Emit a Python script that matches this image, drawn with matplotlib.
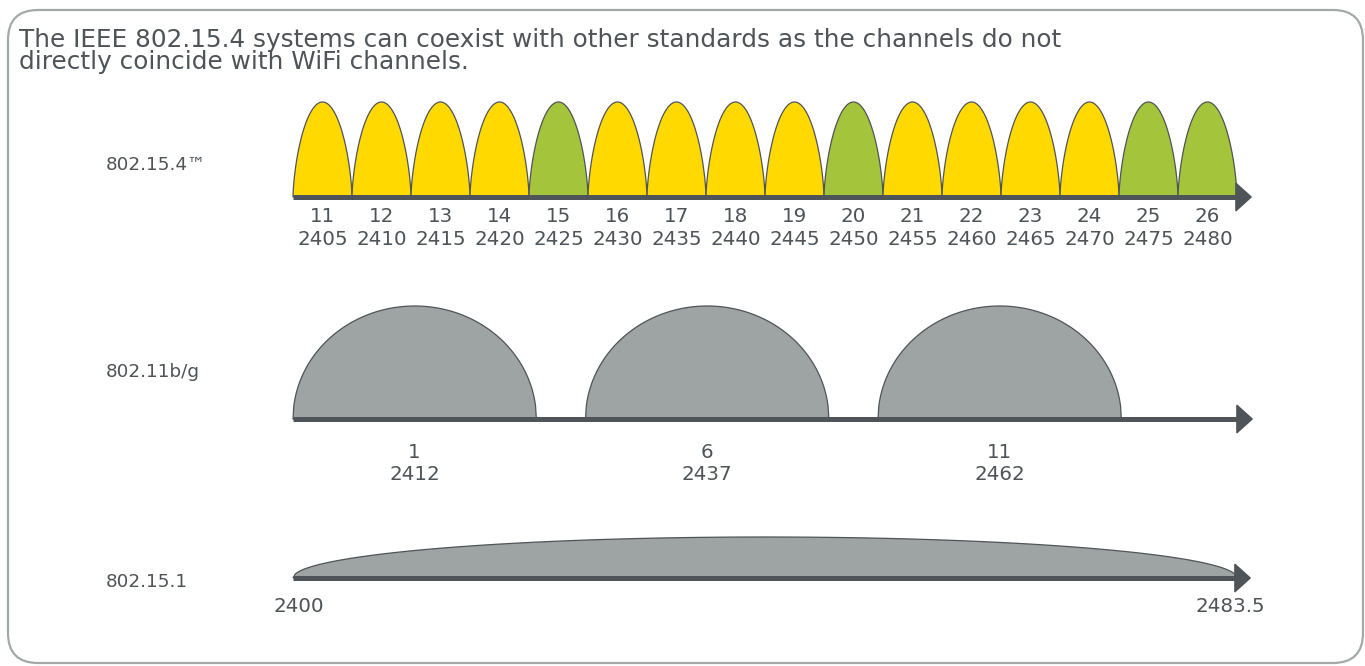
import numpy as np
import matplotlib
matplotlib.use("Agg")
import matplotlib.pyplot as plt
from matplotlib.patches import FancyBboxPatch

# ---------------- data ----------------
title = ("The IEEE 802.15.4 systems can coexist with other standards as the channels do not\n"
         "directly coincide with WiFi channels.")
row_labels = ["802.15.4\u2122", "802.11b/g", "802.15.1"]

zb_channels = [11, 12, 13, 14, 15, 16, 17, 18, 19, 20, 21, 22, 23, 24, 25, 26]
zb_freqs = [2405, 2410, 2415, 2420, 2425, 2430, 2435, 2440,
            2445, 2450, 2455, 2460, 2465, 2470, 2475, 2480]
zb_clear_channels = [15, 20, 25, 26]
zb_bandwidth = 5.0

wifi_channels = [1, 6, 11]
wifi_freqs = [2412, 2437, 2462]
wifi_bandwidth = 20.8

bt_band = [2400, 2483.5]

# ---------------- style ----------------
W, H, DPI = 1365, 666, 100
DARK = "#4f5458"
YELLOW = "#ffd900"
GREEN = "#a3c43b"
GREY = "#9ea4a3"
BORDER = "#a3a9a8"
FONT = ["DejaVu Sans"]

plt.rcParams["font.family"] = FONT

fig = plt.figure(figsize=(W / DPI, H / DPI), dpi=DPI)

# rounded frame
frame = FancyBboxPatch((8 / W, 3 / H), (W - 10) / W, (H - 13) / H,
                       boxstyle="round,pad=0,rounding_size=0.022",
                       transform=fig.transFigure, fill=False,
                       ec=BORDER, lw=1.6, mutation_aspect=W / H)
fig.patches.append(frame)

fig.text(19 / W, 1 - 28 / H, title, ha="left", va="top", fontsize=17.8,
         color=DARK, linespacing=0.9)


def make_row(baseline_px, f_ref, px_ref, px_per_mhz):
    """Axes covering the whole figure, y in pixels above the row baseline."""
    ax = fig.add_axes([0, 0, 1, 1])
    ax.set_axis_off()
    ax.patch.set_alpha(0)
    ax.set_ylim(-(H - baseline_px), baseline_px)
    ax.set_xlim(f_ref - px_ref / px_per_mhz, f_ref + (W - px_ref) / px_per_mhz)
    return ax


def axis_arrow(ax, x_start, tip_px_offset, px_per_mhz, x_end_data):
    x_tip = x_end_data + tip_px_offset / px_per_mhz
    head_len = 15 / px_per_mhz
    ax.plot([x_start, x_tip - head_len * 0.5], [0, 0], color=DARK, lw=3.6,
            solid_capstyle="butt", zorder=5)
    ax.fill([x_tip - head_len, x_tip, x_tip - head_len], [13.5, 0, -13.5],
            color=DARK, lw=1.2, joinstyle="round", zorder=6)


TICK_FS = 14.3
lab_kw = dict(ha="center", va="center", color=DARK, fontsize=TICK_FS)

# ---- row 1: 802.15.4 ----
s1 = 11.8
f1_lo = zb_freqs[0] - zb_bandwidth / 2
ax1 = make_row(197, f1_lo, 293, s1)
t = np.linspace(-1, 1, 300)
for ch, f in zip(zb_channels, zb_freqs):
    xs = f + t * zb_bandwidth / 2
    ys = 95 * (1 - t ** 2) ** 0.65
    col = GREEN if ch in zb_clear_channels else YELLOW
    ax1.fill(xs, ys, color=col, ec=DARK, lw=0.9, zorder=2)
    ax1.text(f, -19, str(ch), **lab_kw)
    ax1.text(f, -42, str(f), **lab_kw)
axis_arrow(ax1, f1_lo, 14, s1, zb_freqs[-1] + zb_bandwidth / 2)

# ---- row 2: 802.11b/g ----
s2 = 11.7
f2_lo = wifi_freqs[0] - wifi_bandwidth / 2
ax2 = make_row(419, f2_lo, 293, s2)
for ch, f in zip(wifi_channels, wifi_freqs):
    xs = f + t * wifi_bandwidth / 2
    ys = 113 * np.sqrt(1 - t ** 2)
    ax2.fill(xs, ys, color=GREY, ec=DARK, lw=0.9, zorder=2)
    ax2.text(f, -33, str(ch), **lab_kw)
    ax2.text(f, -56, str(f), **lab_kw)
axis_arrow(ax2, f2_lo, 1252 - 293, s2, f2_lo)

# ---- row 3: 802.15.1 ----
s3 = 944 / (bt_band[1] - bt_band[0])
ax3 = make_row(578, bt_band[0], 293, s3)
xs = np.linspace(bt_band[0], bt_band[1], 400)
tt = (xs - (bt_band[0] + bt_band[1]) / 2) / ((bt_band[1] - bt_band[0]) / 2)
ys = 41 * np.sqrt(np.clip(1 - tt ** 2, 0, None))
ax3.fill(xs, ys, color=GREY, ec=DARK, lw=0.9, zorder=2)
axis_arrow(ax3, bt_band[0], 13, s3, bt_band[1])
ax3.text(bt_band[0] + 6 / s3, -29, f"{bt_band[0]:g}", **lab_kw)
ax3.text(bt_band[1] - 7 / s3, -29, f"{bt_band[1]:g}", **lab_kw)

# row labels
for lbl, ypx in zip(row_labels, [165, 372, 582]):
    fig.text(106 / W, 1 - ypx / H, lbl, ha="left", va="center",
             color=DARK, fontsize=13.2)

fig.savefig("out.png", dpi=DPI)
